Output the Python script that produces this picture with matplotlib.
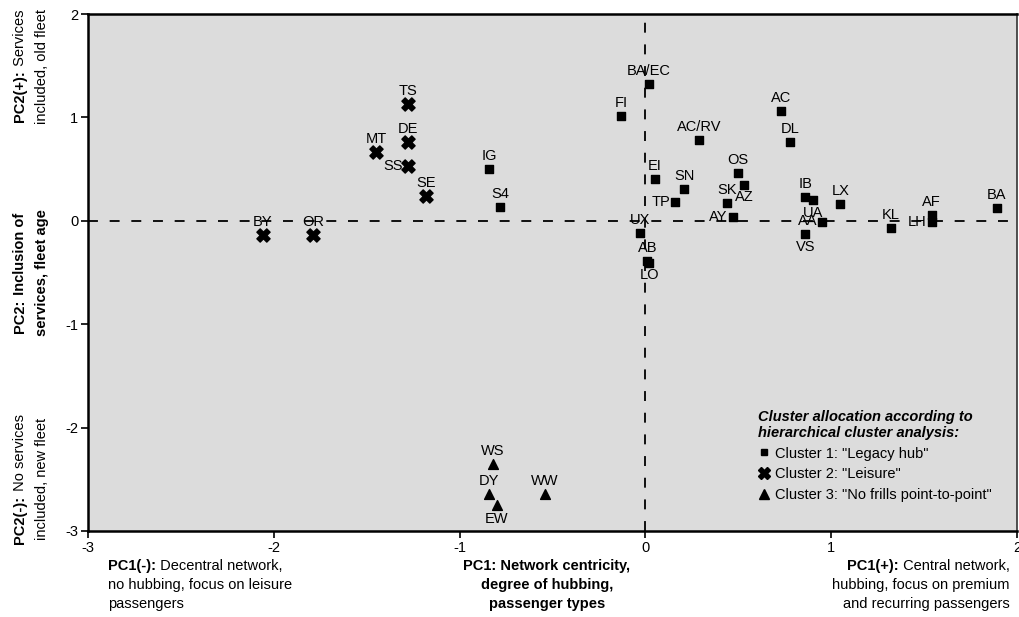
import matplotlib
matplotlib.use('Agg')
import matplotlib.pyplot as plt
from matplotlib.lines import Line2D

plt.rcParams['font.family'] = ['Liberation Sans', 'DejaVu Sans']
plt.rcParams['font.size'] = 10.5
plt.rcParams['axes.unicode_minus'] = False

# cluster 1: legacy hub
hub_names = ['BA/EC', 'FI', 'AC/RV', 'AC', 'DL', 'EI', 'SN', 'TP', 'OS', 'AZ', 'SK', 'AY',
             'IB', 'UA', 'AA', 'VS', 'LX', 'KL', 'AF', 'LH', 'BA', 'UX', 'AB', 'LO', 'IG', 'S4']
hub_x = [0.02, -0.13, 0.29, 0.73, 0.78, 0.05, 0.21, 0.16, 0.50, 0.53, 0.44, 0.47,
         0.86, 0.90, 0.95, 0.86, 1.05, 1.32, 1.54, 1.54, 1.89, -0.03, 0.01, 0.02, -0.84, -0.78]
hub_y = [1.32, 1.01, 0.78, 1.06, 0.76, 0.40, 0.31, 0.18, 0.46, 0.35, 0.17, 0.04,
         0.23, 0.20, -0.01, -0.13, 0.16, -0.07, 0.06, -0.01, 0.12, -0.12, -0.39, -0.41, 0.50, 0.13]

# cluster 2: leisure
leis_names = ['TS', 'DE', 'MT', 'SS', 'SE', 'BY', 'OR']
leis_x = [-1.28, -1.28, -1.45, -1.28, -1.18, -2.06, -1.79]
leis_y = [1.13, 0.76, 0.67, 0.53, 0.24, -0.14, -0.14]

# cluster 3: no frills point-to-point
p2p_names = ['WS', 'DY', 'EW', 'WW']
p2p_x = [-0.82, -0.84, -0.80, -0.54]
p2p_y = [-2.35, -2.64, -2.75, -2.64]

# label placement in pixels (dx, dy, ha); default is above the marker
label_pos = {
    'TP': (-5, 0, 'right'), 'AY': (-5, 0, 'right'), 'SS': (-5, 0, 'right'),
    'LH': (-5, 0, 'right'), 'AA': (-4, 1, 'right'), 'UA': (0, -13, 'center'),
    'VS': (0, -13, 'center'), 'AZ': (0, -12, 'center'), 'LO': (0, -12, 'center'),
    'EW': (0, -14, 'center'),
}

W, H = 1019, 617
fig = plt.figure(figsize=(W / 100, H / 100), dpi=100)
ax = fig.add_axes([88 / W, 1 - 531 / H, 929 / W, 517 / H])
ax.set_facecolor('#dcdcdc')

ax.axhline(0, color='black', lw=1.3, dashes=(5.5, 6.5), zorder=1)
ax.axvline(0, color='black', lw=1.3, dashes=(5.5, 6.5), zorder=1)

ax.scatter(hub_x, hub_y, marker='s', s=30, color='black', zorder=3)
ax.scatter(leis_x, leis_y, marker='X', s=90, color='black', zorder=3)
ax.scatter(p2p_x, p2p_y, marker='^', s=50, color='black', zorder=3)

for names, xs, ys in [(hub_names, hub_x, hub_y), (leis_names, leis_x, leis_y),
                      (p2p_names, p2p_x, p2p_y)]:
    for n, x, y in zip(names, xs, ys):
        dx, dy, ha = label_pos.get(n, (0, 13, 'center'))
        ax.annotate(n, (x, y), xytext=(dx, dy), textcoords='offset pixels',
                    ha=ha, va='center', fontsize=10.5, zorder=4)

ax.set_xlim(-3, 2)
ax.set_ylim(-3, 2)
ax.set_xticks([-3, -2, -1, 0, 1, 2])
ax.set_yticks([-3, -2, -1, 0, 1, 2])
ax.tick_params(direction='out', length=5, width=1.2, labelsize=10.5, pad=2)
for s in ['left', 'bottom', 'top']:
    ax.spines[s].set_linewidth(1.8)
ax.spines['right'].set_color('#333333')
ax.spines['right'].set_linewidth(1.2)

handles = [
    Line2D([], [], ls='', marker='s', ms=5, color='black'),
    Line2D([], [], ls='', marker='X', ms=9, color='black'),
    Line2D([], [], ls='', marker='^', ms=7, color='black'),
]
leg = ax.legend(handles, ['Cluster 1: "Legacy hub"', 'Cluster 2: "Leisure"',
                          'Cluster 3: "No frills point-to-point"'],
                title='Cluster allocation according to\nhierarchical cluster analysis:',
                loc='upper left', bbox_to_anchor=((752 - 88) / 929, (531 - 404) / 517),
                frameon=False, handlelength=0.8, handletextpad=0.4, labelspacing=0.45,
                borderaxespad=0, alignment='left', fontsize=10.5,
                title_fontproperties={'weight': 'bold', 'style': 'italic', 'size': 10.5})

# axis description texts (mixed bold / normal)
renderer = fig.canvas.get_renderer()


def width_px(s, weight):
    t = fig.text(0, 0, s, fontsize=10.5, weight=weight)
    w = t.get_window_extent(renderer).width
    t.remove()
    return w


def fx(px):
    return px / W


def fy(py):
    return 1 - py / H


line_h = 19

# bottom left block
x0, y0 = 108, 566
wb = width_px('PC1(-):', 'bold')
fig.text(fx(x0), fy(y0), 'PC1(-):', weight='bold', va='center')
fig.text(fx(x0 + wb), fy(y0), ' Decentral network,', va='center')
fig.text(fx(x0), fy(y0 + line_h), 'no hubbing, focus on leisure', va='center')
fig.text(fx(x0), fy(y0 + 2 * line_h), 'passengers', va='center')

# bottom center block
for i, s in enumerate(['PC1: Network centricity,', 'degree of hubbing,', 'passenger types']):
    fig.text(fx(547), fy(y0 + i * line_h), s, weight='bold', ha='center', va='center')

# bottom right block
x1 = 1010
wn = width_px(' Central network,', 'normal')
fig.text(fx(x1), fy(y0), ' Central network,', ha='right', va='center')
fig.text(fx(x1 - wn), fy(y0), 'PC1(+):', weight='bold', ha='right', va='center')
fig.text(fx(x1), fy(y0 + line_h), 'hubbing, focus on premium', ha='right', va='center')
fig.text(fx(x1), fy(y0 + 2 * line_h), 'and recurring passengers', ha='right', va='center')


# left rotated blocks
def rotated_block(yc, bold, rest, line2, all_bold=False):
    w2 = 'bold' if all_bold else 'normal'
    wb = width_px(bold, 'bold')
    wr = width_px(rest, w2)
    start = yc + (wb + wr) / 2
    fig.text(fx(20), fy(start), bold, weight='bold', rotation=90, ha='center', va='bottom')
    fig.text(fx(20), fy(start - wb), rest, weight=w2, rotation=90, ha='center', va='bottom')
    fig.text(fx(42), fy(yc), line2, weight=w2, rotation=90, ha='center', va='center')


rotated_block(66, 'PC2(+):', ' Services', 'included, old fleet')
rotated_block(273, 'PC2:', ' Inclusion of', 'services, fleet age', all_bold=True)
rotated_block(479, 'PC2(-):', ' No services', 'included, new fleet')

fig.savefig('out.png', dpi=100)
